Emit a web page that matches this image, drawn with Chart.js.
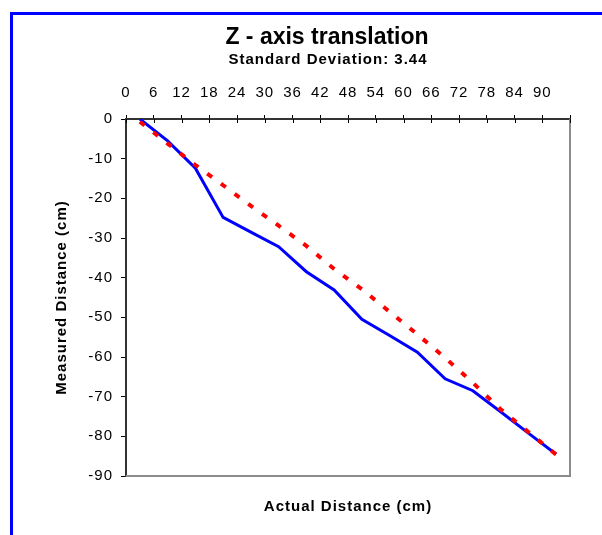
<!DOCTYPE html>
<html>
<head>
<meta charset="utf-8">
<title>Z - axis translation</title>
<script src="https://cdn.jsdelivr.net/npm/chart.js@4/dist/chart.umd.min.js"></script>
<style>
  body { margin: 0; background: #fff; }
  canvas { display: block; }
</style>
</head>
<body>
<canvas id="grafico" width="602" height="535"></canvas>
<script>
// values
const actualDistance = [3, 9, 15, 21, 27, 33, 39, 45, 51, 57, 63, 69, 75, 81, 87, 93];
const measuredBlue = [0, -5.5, -12.4, -24.8, -28.5, -32.2, -38.5, -43.1, -50.5, -54.6, -58.8, -65.5, -68.5, -73.8, -79.2, -84.5];
const measuredRed = [-0.7, -6.2, -11.6, -16.7, -21.9, -26.9, -32.0, -37.8, -42.9, -48.6, -54.3, -60.2, -66.5, -73.2, -78.9, -84.6];
const xTickValues = [0, 6, 12, 18, 24, 30, 36, 42, 48, 54, 60, 66, 72, 78, 84, 90];
const yTickValues = [0, -10, -20, -30, -40, -50, -60, -70, -80, -90];

const titleText = "Z - axis translation";
const subtitleText = "Standard Deviation: 3.44";

const FONT = "'Liberation Sans', Arial, sans-serif";
Chart.defaults.font.family = FONT;
Chart.defaults.color = "#000";

const toPoints = (ys) => actualDistance.map((x, i) => ({ x: x, y: ys[i] }));

// frame, titles, plot border and the inner half of the top ticks
const decor = {
  id: "decor",
  beforeLayout(chart) {
    chart.ctx.letterSpacing = "1px";
  },
  beforeDraw(chart) {
    chart.ctx.letterSpacing = "1px";
  },
  afterDraw(chart) {
    const { ctx, chartArea: a, scales } = chart;
    ctx.save();
    ctx.fillStyle = "#0000ff";
    ctx.fillRect(10, 12, 592, 3);
    ctx.fillRect(10, 12, 3, 523);

    ctx.strokeStyle = "#8c8c8c";
    ctx.lineWidth = 2;
    ctx.beginPath();
    ctx.moveTo(a.left, a.bottom);
    ctx.lineTo(a.right, a.bottom);
    ctx.lineTo(a.right, a.top);
    ctx.stroke();

    ctx.strokeStyle = "#000";
    ctx.lineWidth = 1;
    ctx.beginPath();
    scales.x.ticks.forEach((t) => {
      const px = Math.round(scales.x.getPixelForValue(t.value)) + 0.5;
      ctx.moveTo(px, a.top);
      ctx.lineTo(px, a.top + 4);
    });
    ctx.stroke();

    ctx.fillStyle = "#000";
    ctx.textAlign = "center";
    ctx.textBaseline = "middle";
    ctx.letterSpacing = "0px";
    ctx.font = "bold 23px " + FONT;
    ctx.fillText(titleText, 327, 38);
    ctx.letterSpacing = "1px";
    ctx.font = "bold 15px " + FONT;
    ctx.fillText(subtitleText, 328, 60);
    ctx.restore();
  },
};

const ctx = document.getElementById("grafico").getContext("2d");
const grafico = new Chart(ctx, {
  type: "line",
  data: {
    datasets: [
      {
        label: "Series 2",
        data: toPoints(measuredRed),
        borderColor: "#ff0000",
        borderWidth: 4,
        borderDash: [6, 11],
        pointRadius: 0,
        tension: 0,
      },
      {
        label: "Series 1",
        data: toPoints(measuredBlue),
        borderColor: "#0000ff",
        borderWidth: 3,
        pointRadius: 0,
        tension: 0,
      },
    ],
  },
  options: {
    responsive: false,
    animation: false,
    layout: { padding: { left: 40, right: 32, top: 70, bottom: 0 } },
    plugins: {
      legend: { display: false },
      tooltip: { enabled: false },
    },
    scales: {
      x: {
        type: "linear",
        position: "top",
        min: 0,
        max: 96,
        afterFit: (s) => { s.height = 49; },
        ticks: {
          stepSize: 6,
          autoSkip: false,
          maxRotation: 0,
          padding: 13,
          font: { size: 15 },
          callback: (v) => (xTickValues.includes(v) ? v : ""),
        },
        grid: { drawOnChartArea: false, tickLength: 4, color: "#000" },
        border: { color: "#333", width: 2 },
      },
      x2: {
        type: "linear",
        position: "bottom",
        min: 0,
        max: 96,
        afterFit: (s) => { s.height = 59; },
        ticks: { display: false },
        grid: { display: false },
        border: { display: false },
        title: {
          display: true,
          text: "Actual Distance (cm)",
          font: { size: 15, weight: "bold" },
          padding: { top: 0, bottom: 19 },
        },
      },
      y: {
        type: "linear",
        position: "left",
        min: -90,
        max: 0,
        afterFit: (s) => { s.width = 86; },
        ticks: {
          stepSize: 10,
          padding: 8,
          font: { size: 15 },
          callback: (v) => (yTickValues.includes(v) ? v : ""),
        },
        grid: { drawOnChartArea: false, tickLength: 5, color: "#000" },
        border: { color: "#333", width: 2 },
        title: {
          display: true,
          text: "Measured Distance (cm)",
          font: { size: 15, weight: "bold" },
          padding: { top: 13, bottom: 0 },
        },
      },
    },
  },
  plugins: [decor],
});
</script>
</body>
</html>
